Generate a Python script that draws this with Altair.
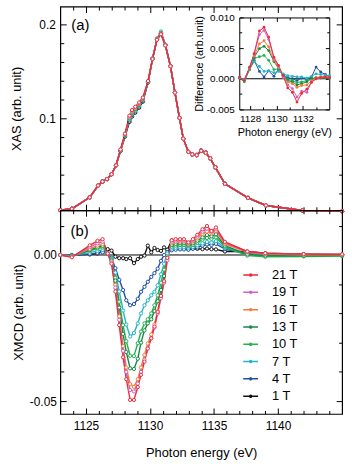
import altair as alt
import pandas as pd

FONT = "Liberation Sans"
FIELDS = ["21 T", "19 T", "16 T", "13 T", "10 T", "7 T", "4 T", "1 T"]
COLORS = ["#ee2a36", "#d062c6", "#f47b36", "#168a46", "#22b24e", "#24b4c8", "#2350a6", "#111111"]

# ---------------- XAS (panel a) ----------------
E_XAS = [1123.0, 1123.9, 1125.3, 1125.95, 1126.3, 1126.65, 1127.0, 1127.35, 1127.7, 1128.05,
         1128.4, 1128.6, 1128.85, 1129.15, 1129.45, 1129.85, 1130.2, 1130.55, 1130.86, 1131.2,
         1131.6, 1131.95, 1132.3, 1132.6, 1133.0, 1133.3, 1133.65, 1134.0, 1134.35, 1134.7,
         1135.1, 1135.85, 1137.65, 1139.05, 1141.9, 1145.0]
XAS_21 = [0.0021, 0.0036, 0.0158, 0.0284, 0.0326, 0.0352, 0.0404, 0.0499, 0.0667, 0.0836,
          0.1028, 0.1088, 0.1123, 0.1168, 0.1221, 0.1397, 0.1632, 0.1836, 0.1895, 0.1776,
          0.1555, 0.1274, 0.1004, 0.0783, 0.0642, 0.0615, 0.0607, 0.0653, 0.0632, 0.0573,
          0.0478, 0.0302, 0.0152, 0.0071, 0.0018, 0.0010]
XAS_19 = [0.0021, 0.0036, 0.0158, 0.0284, 0.0326, 0.0352, 0.0404, 0.0499, 0.0665, 0.0832,
          0.1020, 0.1080, 0.1116, 0.1162, 0.1216, 0.1395, 0.1632, 0.1838, 0.1900, 0.1778,
          0.1555, 0.1274, 0.1004, 0.0783, 0.0642, 0.0615, 0.0607, 0.0653, 0.0632, 0.0573,
          0.0478, 0.0302, 0.0152, 0.0071, 0.0018, 0.0010]
XAS_16 = [0.0021, 0.0036, 0.0158, 0.0284, 0.0326, 0.0352, 0.0404, 0.0499, 0.0663, 0.0828,
          0.1012, 0.1072, 0.1108, 0.1155, 0.1210, 0.1393, 0.1633, 0.1840, 0.1902, 0.1779,
          0.1555, 0.1274, 0.1004, 0.0783, 0.0642, 0.0615, 0.0607, 0.0653, 0.0632, 0.0573,
          0.0478, 0.0302, 0.0152, 0.0071, 0.0018, 0.0010]
XAS_13 = [0.0021, 0.0036, 0.0158, 0.0284, 0.0326, 0.0352, 0.0404, 0.0499, 0.0661, 0.0824,
          0.1004, 0.1063, 0.1100, 0.1148, 0.1204, 0.1391, 0.1634, 0.1842, 0.1905, 0.1780,
          0.1555, 0.1274, 0.1004, 0.0783, 0.0642, 0.0615, 0.0607, 0.0653, 0.0632, 0.0573,
          0.0478, 0.0302, 0.0152, 0.0071, 0.0018, 0.0010]
XAS_10 = [0.0021, 0.0036, 0.0158, 0.0284, 0.0326, 0.0352, 0.0404, 0.0499, 0.0659, 0.0820,
          0.0996, 0.1054, 0.1092, 0.1141, 0.1198, 0.1389, 0.1635, 0.1845, 0.1910, 0.1782,
          0.1555, 0.1274, 0.1004, 0.0783, 0.0642, 0.0615, 0.0607, 0.0653, 0.0632, 0.0573,
          0.0478, 0.0302, 0.0152, 0.0071, 0.0018, 0.0010]
XAS_7 = [0.0021, 0.0036, 0.0158, 0.0284, 0.0326, 0.0352, 0.0404, 0.0499, 0.0657, 0.0816,
         0.0988, 0.1045, 0.1084, 0.1134, 0.1192, 0.1387, 0.1638, 0.1850, 0.1925, 0.1785,
         0.1555, 0.1274, 0.1004, 0.0783, 0.0642, 0.0615, 0.0607, 0.0653, 0.0632, 0.0573,
         0.0478, 0.0302, 0.0152, 0.0071, 0.0018, 0.0010]
XAS_4 = [0.0021, 0.0036, 0.0158, 0.0284, 0.0326, 0.0352, 0.0404, 0.0499, 0.0655, 0.0812,
         0.0978, 0.1035, 0.1075, 0.1126, 0.1186, 0.1385, 0.1636, 0.1846, 0.1915, 0.1782,
         0.1555, 0.1274, 0.1004, 0.0783, 0.0642, 0.0615, 0.0612, 0.0660, 0.0638, 0.0575,
         0.0478, 0.0302, 0.0152, 0.0071, 0.0018, 0.0010]
XAS_1 = [0.0021, 0.0036, 0.0158, 0.0284, 0.0326, 0.0352, 0.0404, 0.0499, 0.0652, 0.0805,
         0.0962, 0.1018, 0.1060, 0.1113, 0.1178, 0.1382, 0.1634, 0.1842, 0.1905, 0.1780,
         0.1555, 0.1274, 0.1004, 0.0783, 0.0642, 0.0615, 0.0607, 0.0653, 0.0632, 0.0573,
         0.0478, 0.0302, 0.0152, 0.0071, 0.0018, 0.0010]

# ---------------- XMCD (panel b) ----------------
E_XMCD = [1123.0, 1123.9, 1125.3, 1125.9, 1126.3, 1126.7, 1127.0, 1127.3, 1127.6, 1127.9,
          1128.15, 1128.45, 1128.75, 1129.05, 1129.3, 1129.57, 1129.83, 1130.1, 1130.35, 1130.6,
          1130.86, 1131.1, 1131.35, 1131.7, 1132.0, 1132.35, 1132.65, 1133.0, 1133.35, 1133.7,
          1134.1, 1134.45, 1134.8, 1135.15, 1135.85, 1137.6, 1139.0, 1142.0, 1145.0]
X21 = [0.0000, -0.0008, 0.0033, 0.0048, 0.0054, 0.0005, -0.0030, -0.0125, -0.0240, -0.0350,
       -0.0425, -0.0496, -0.0496, -0.0452, -0.0410, -0.0365, -0.0320, -0.0285, -0.0245, -0.0195,
       -0.0140, -0.0090, -0.0010, 0.0050, 0.0054, 0.0054, 0.0054, 0.0043, 0.0054, 0.0069,
       0.0088, 0.0099, 0.0082, 0.0094, 0.0045, 0.0012, 0.0006, 0.0003, 0.0002]
X19 = [0.0000, -0.0006, 0.0027, 0.0040, 0.0046, 0.0006, -0.0026, -0.0112, -0.0222, -0.0328,
       -0.0400, -0.0462, -0.0467, -0.0440, -0.0400, -0.0358, -0.0318, -0.0285, -0.0248, -0.0200,
       -0.0148, -0.0095, -0.0018, 0.0045, 0.0050, 0.0050, 0.0050, 0.0041, 0.0050, 0.0063,
       0.0080, 0.0090, 0.0079, 0.0088, 0.0042, 0.0011, 0.0005, 0.0003, 0.0002]
X16 = [0.0000, -0.0005, 0.0021, 0.0032, 0.0037, 0.0006, -0.0022, -0.0102, -0.0210, -0.0312,
       -0.0385, -0.0442, -0.0451, -0.0425, -0.0385, -0.0342, -0.0303, -0.0272, -0.0238, -0.0192,
       -0.0142, -0.0090, -0.0018, 0.0040, 0.0045, 0.0046, 0.0046, 0.0038, 0.0046, 0.0057,
       0.0072, 0.0080, 0.0074, 0.0082, 0.0038, 0.0009, 0.0003, 0.0001, 0.0001]
X13 = [0.0000, -0.0004, 0.0017, 0.0026, 0.0031, 0.0006, -0.0018, -0.0088, -0.0180, -0.0270,
       -0.0332, -0.0388, -0.0390, -0.0355, -0.0300, -0.0258, -0.0234, -0.0220, -0.0192, -0.0158,
       -0.0120, -0.0072, -0.0010, 0.0034, 0.0038, 0.0040, 0.0040, 0.0034, 0.0040, 0.0049,
       0.0060, 0.0068, 0.0064, 0.0071, 0.0032, 0.0002, -0.0002, -0.0003, -0.0002]
X10 = [0.0000, -0.0003, 0.0014, 0.0022, 0.0026, 0.0006, -0.0015, -0.0078, -0.0160, -0.0240,
       -0.0295, -0.0345, -0.0346, -0.0302, -0.0262, -0.0234, -0.0220, -0.0200, -0.0172, -0.0138,
       -0.0095, -0.0050, -0.0005, 0.0028, 0.0032, 0.0034, 0.0034, 0.0030, 0.0034, 0.0042,
       0.0052, 0.0058, 0.0055, 0.0060, 0.0028, -0.0002, -0.0006, -0.0005, -0.0004]
X7 = [0.0000, -0.0002, 0.0008, 0.0014, 0.0017, 0.0005, -0.0012, -0.0060, -0.0125, -0.0190,
      -0.0238, -0.0279, -0.0267, -0.0234, -0.0200, -0.0172, -0.0155, -0.0138, -0.0126, -0.0104,
      -0.0066, -0.0030, 0.0005, 0.0022, 0.0025, 0.0026, 0.0026, 0.0024, 0.0027, 0.0033,
      0.0040, 0.0045, 0.0042, 0.0047, 0.0024, 0.0002, -0.0001, -0.0001, -0.0001]
X4 = [0.0000, -0.0001, 0.0003, 0.0007, 0.0009, 0.0004, -0.0010, -0.0045, -0.0085, -0.0120,
      -0.0155, -0.0172, -0.0168, -0.0150, -0.0126, -0.0109, -0.0092, -0.0075, -0.0062, -0.0047,
      -0.0020, 0.0000, 0.0010, 0.0016, 0.0018, 0.0019, 0.0019, 0.0018, 0.0021, 0.0026,
      0.0032, 0.0036, 0.0034, 0.0038, 0.0020, 0.0004, 0.0002, 0.0001, 0.0001]
X1 = [0.0000, 0.0000, 0.0002, 0.0005, 0.0012, 0.0020, 0.0015, -0.0006, -0.0011, -0.0011,
      -0.0014, -0.0011, -0.0028, -0.0014, -0.0006, -0.0002, 0.0032, 0.0009, 0.0024, 0.0017,
      0.0014, 0.0026, 0.0018, 0.0050, 0.0030, 0.0022, 0.0024, 0.0020, 0.0022, 0.0021,
      0.0020, 0.0022, 0.0020, 0.0019, 0.0012, 0.0012, 0.0006, 0.0003, 0.0002]

# ---------------- Difference (inset) ----------------
E_DIFF = [1127.2, 1127.55, 1127.95, 1128.3, 1128.7, 1129.05, 1129.4, 1129.8, 1130.15, 1130.5,
          1130.85, 1131.2, 1131.55, 1131.9, 1132.3, 1132.65, 1133.0, 1133.35, 1133.7, 1134.0]
D21 = [0.0003, -0.0003, 0.0019, 0.0041, 0.0078, 0.0084, 0.0068, 0.0035, 0.0022, 0.0005,
       -0.0015, -0.0022, -0.0038, -0.0024, -0.0017, -0.0006, 0.0000, 0.0002, 0.0003, 0.0002]
D19 = [0.0002, -0.0002, 0.0018, 0.0040, 0.0072, 0.0079, 0.0064, 0.0033, 0.0020, 0.0002,
       -0.0010, -0.0016, -0.0030, -0.0020, -0.0022, -0.0005, 0.0000, 0.0002, 0.0003, 0.0002]
D16 = [0.0002, -0.0002, 0.0017, 0.0037, 0.0057, 0.0062, 0.0052, 0.0030, 0.0018, 0.0004,
       -0.0005, -0.0008, -0.0014, -0.0011, -0.0010, -0.0003, 0.0002, 0.0003, 0.0004, 0.0002]
D13 = [0.0001, -0.0003, 0.0016, 0.0035, 0.0049, 0.0053, 0.0046, 0.0028, 0.0017, 0.0005,
       -0.0003, -0.0005, -0.0010, -0.0008, -0.0005, 0.0000, 0.0002, 0.0002, 0.0003, 0.0001]
D10 = [0.0001, -0.0005, 0.0015, 0.0033, 0.0036, 0.0038, 0.0030, 0.0015, 0.0016, 0.0006,
       -0.0001, -0.0003, -0.0006, -0.0005, -0.0003, 0.0000, 0.0001, 0.0001, 0.0002, 0.0001]
D7 = [0.0002, -0.0002, 0.0015, 0.0028, 0.0020, 0.0012, 0.0013, 0.0010, 0.0012, 0.0008,
      0.0005, 0.0004, 0.0003, 0.0003, 0.0001, 0.0004, 0.0008, 0.0007, 0.0006, 0.0005]
D4 = [0.0001, -0.0001, 0.0016, 0.0030, 0.0012, 0.0003, 0.0013, 0.0004, 0.0016, 0.0006,
      0.0002, 0.0000, -0.0003, 0.0001, -0.0001, 0.0003, 0.0019, 0.0011, 0.0007, 0.0004]

XAS = {"21 T": XAS_21, "19 T": XAS_19, "16 T": XAS_16, "13 T": XAS_13,
       "10 T": XAS_10, "7 T": XAS_7, "4 T": XAS_4, "1 T": XAS_1}
XMCD = {"21 T": X21, "19 T": X19, "16 T": X16, "13 T": X13,
        "10 T": X10, "7 T": X7, "4 T": X4, "1 T": X1}
DIFF = {"21 T": D21, "19 T": D19, "16 T": D16, "13 T": D13,
        "10 T": D10, "7 T": D7, "4 T": D4}


def long_df(energies, series):
    rows = []
    for name in reversed(FIELDS):
        if name in series:
            for e, v in zip(energies, series[name]):
                rows.append({"E": e, "v": v, "B": name})
    return pd.DataFrame(rows)


xas_df = long_df(E_XAS, XAS)
xmcd_df = long_df(E_XMCD, XMCD)
diff_df = long_df(E_DIFF, DIFF)

# ---------------- geometry / scales ----------------
W, H = 285, 206
IX0, IX1, IY0, IY1 = 181, 272, 11, 104  # inset box in panel pixels

XS = alt.Scale(domain=[1123, 1145], nice=False, zero=False)
Y1S = alt.Scale(domain=[0.002, 0.219], nice=False, zero=False)
Y2S = alt.Scale(domain=[-0.0544, 0.0153], nice=False, zero=False)
IXS = alt.Scale(domain=[1127.17, 1134.0], range=[IX0, IX1], nice=False, zero=False)
IYS = alt.Scale(domain=[-0.005, 0.010], range=[IY1, IY0], nice=False, zero=False)
CS = alt.Scale(domain=FIELDS, range=COLORS)

X_TICKS = list(range(1124, 1145))
XT = "datum.value % 5 === 0"
Y1_TICKS = [0.02, 0.04, 0.06, 0.08, 0.1, 0.12, 0.14, 0.16, 0.18, 0.2]
Y1T = "abs(datum.value*10 - round(datum.value*10)) < 0.001"
Y2_TICKS = [-0.05, -0.04, -0.03, -0.02, -0.01, 0.0, 0.01]
Y2T = "abs(datum.value*20 - round(datum.value*20)) < 0.001"
IX_TICKS = [1128, 1129, 1130, 1131, 1132, 1133]
IXT = "datum.value % 2 === 0"
IY_TICKS = [-0.005, -0.0025, 0.0, 0.0025, 0.005, 0.0075, 0.01]
IYT = "abs(datum.value*200 - round(datum.value*200)) < 0.001"


def tick_axis(orient, offset, values, test, major, minor, domain=False):
    return alt.Axis(orient=orient, offset=offset, values=values, labels=False, title=None,
                    grid=False, ticks=True, tickColor="black", tickWidth=1,
                    tickSize={"condition": {"test": test, "value": major}, "value": minor},
                    domain=domain, domainColor="black", domainWidth=1)


def hyphen(fmt):
    return "replace(format(datum.value, '%s'), '\u2212', '-')" % fmt


POINT = dict(shape="circle", size=11, strokeWidth=1, filled=False, fill="white", fillOpacity=1, opacity=1)

# ---------------- top panel ----------------
a_lines = alt.Chart(xas_df).mark_line(strokeWidth=1.4).encode(
    x=alt.X("E:Q", scale=XS, axis=tick_axis("top", -H, X_TICKS, XT, 6, 3.5)),
    y=alt.Y("v:Q", scale=Y1S, axis=alt.Axis(
        orient="left", values=[0.1, 0.2], labelExpr=hyphen(".1f"), ticks=False, tickSize=0,
        domain=False, grid=False, labelPadding=5, labelFontSize=12, labelFont=FONT,
        title="XAS (arb. unit)", titleFontSize=13, titleFont=FONT, titleFontWeight="normal",
        titlePadding=16)),
    color=alt.Color("B:N", scale=CS, legend=None),
)
a_points = alt.Chart(xas_df).mark_point(**POINT).encode(
    x=alt.X("E:Q", scale=XS, axis=None),
    y=alt.Y("v:Q", scale=Y1S, axis=tick_axis("left", -W, Y1_TICKS, Y1T, 6, 3.5)),
    color=alt.Color("B:N", scale=CS, legend=None),
)
a_text = alt.Chart(pd.DataFrame({"label": ["(a)"]})).mark_text(
    align="left", baseline="middle", fontSize=15, font=FONT, color="black").encode(
    x=alt.XDatum(1123.85, scale=XS, axis=tick_axis("bottom", -H, X_TICKS, XT, 6, 3.5)),
    y=alt.YDatum(0.199, scale=Y1S, axis=tick_axis("right", -W, Y1_TICKS, Y1T, 6, 3.5)),
    text="label:N",
)
i_lines = alt.Chart(diff_df).mark_line(strokeWidth=1).encode(
    x=alt.X("E:Q", scale=IXS, axis=alt.Axis(
        orient="bottom", offset=IY1 - H, values=[1128, 1130, 1132], format="d", ticks=False,
        tickSize=0, domain=False, grid=False, labelPadding=4, labelFontSize=10, labelFont=FONT,
        title="Photon energy (eV)", titleFontSize=11, titleFont=FONT, titleFontWeight="normal",
        titlePadding=3)),
    y=alt.Y("v:Q", scale=IYS, axis=alt.Axis(
        orient="left", offset=-IX0, values=[-0.005, 0.0, 0.005, 0.01], labelExpr=hyphen(".3f"),
        ticks=False, tickSize=0, domain=False, grid=False, labelPadding=5, labelFontSize=10,
        labelFont=FONT, title="Difference (arb.unit)", titleFontSize=11, titleFont=FONT,
        titleFontWeight="normal", titlePadding=2)),
    color=alt.Color("B:N", scale=CS, legend=None),
)
i_points = alt.Chart(diff_df).mark_point(shape="circle", size=8, strokeWidth=1, filled=True, opacity=1).encode(
    x=alt.X("E:Q", scale=IXS, axis=tick_axis("bottom", IY0 - H, IX_TICKS, IXT, 4, 2.5, True)),
    y=alt.Y("v:Q", scale=IYS, axis=tick_axis("left", -IX1, IY_TICKS, IYT, 4, 2.5, True)),
    color=alt.Color("B:N", scale=CS, legend=None),
)
i_zero = alt.Chart(pd.DataFrame({"k": [0]})).mark_rule(color="black", strokeWidth=1).encode(
    x=alt.XDatum(1127.17, scale=IXS, axis=tick_axis("top", -IY1, IX_TICKS, IXT, 4, 2.5, True)),
    x2=alt.X2Datum(1134.0),
    y=alt.YDatum(0, scale=IYS, axis=tick_axis("right", IX0 - W, IY_TICKS, IYT, 4, 2.5, True)),
)

top = alt.layer(a_lines, a_points, a_text, i_zero, i_lines, i_points).resolve_scale(
    x="independent", y="independent").properties(width=W, height=H)

# ---------------- bottom panel ----------------
LEG_PATH = "M-1.5,0H1.5M-0.2,0A0.2,0.2,0,1,0,0.2,0A0.2,0.2,0,1,0,-0.2,0Z"
LEGEND = alt.Legend(
    orient="none", legendX=176, legendY=59, title=None, symbolType=LEG_PATH,
    symbolSize=100, symbolOffset=10, symbolStrokeWidth=1.5, symbolFillColor="white",
    labelFontSize=13, labelFont=FONT, labelColor="black", labelOffset=15, rowPadding=3.5,
    padding=0)

b_zero = alt.Chart(pd.DataFrame({"k": [0]})).mark_rule(color="black", strokeWidth=1).encode(
    y=alt.YDatum(0, scale=Y2S, axis=None),
)
b_lines = alt.Chart(xmcd_df).mark_line(strokeWidth=1.4).encode(
    x=alt.X("E:Q", scale=XS, axis=alt.Axis(
        orient="bottom", values=[1125, 1130, 1135, 1140], format="d", ticks=False, tickSize=0,
        domain=False, grid=False, labelPadding=7, labelFontSize=12, labelFont=FONT,
        title="Photon energy (eV)", titleFontSize=13, titleFont=FONT, titleFontWeight="normal",
        titlePadding=15)),
    y=alt.Y("v:Q", scale=Y2S, axis=alt.Axis(
        orient="left", values=[-0.05, 0.0], labelExpr=hyphen(".2f"), ticks=False, tickSize=0,
        domain=False, grid=False, labelPadding=4, labelFontSize=12, labelFont=FONT,
        title="XMCD (arb. unit)", titleFontSize=13, titleFont=FONT, titleFontWeight="normal",
        titlePadding=4)),
    color=alt.Color("B:N", scale=CS, legend=LEGEND),
)
b_points = alt.Chart(xmcd_df).mark_point(**POINT).encode(
    x=alt.X("E:Q", scale=XS, axis=tick_axis("top", -H, X_TICKS, XT, 6, 3.5)),
    y=alt.Y("v:Q", scale=Y2S, axis=tick_axis("right", -W, Y2_TICKS, Y2T, 6, 3.5)),
    color=alt.Color("B:N", scale=CS, legend=LEGEND),
)
b_text = alt.Chart(pd.DataFrame({"label": ["(b)"]})).mark_text(
    align="left", baseline="middle", fontSize=15, font=FONT, color="black").encode(
    x=alt.XDatum(1123.8, scale=XS, axis=tick_axis("bottom", -H, X_TICKS, XT, 6, 3.5)),
    y=alt.YDatum(0.0082, scale=Y2S, axis=tick_axis("left", -W, Y2_TICKS, Y2T, 6, 3.5)),
    text="label:N",
)

bottom = alt.layer(b_zero, b_lines, b_points, b_text).resolve_scale(
    x="independent", y="independent").properties(width=W, height=H)

chart = alt.vconcat(top, bottom, spacing=0, bounds="flush").resolve_scale(
    color="independent").properties(
    padding={"left": 9, "top": 2, "right": 5, "bottom": 5}
).configure(font=FONT).configure_view(stroke="black", strokeWidth=1.2)

chart.save("out.html", embed_options={"renderer": "svg", "actions": False})
